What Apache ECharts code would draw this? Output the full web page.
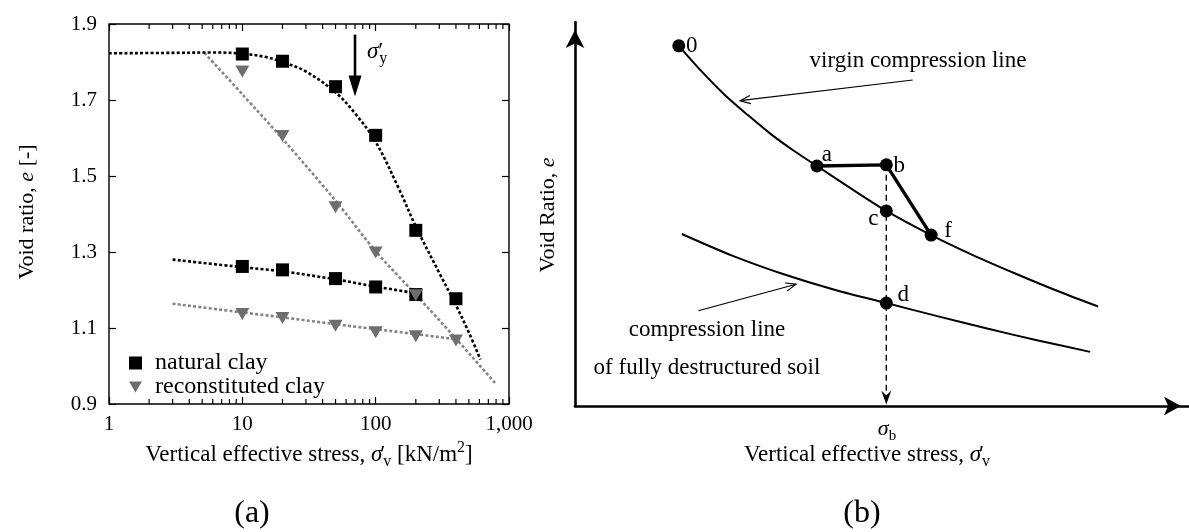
<!DOCTYPE html>
<html><head><meta charset="utf-8">
<script src="https://cdn.jsdelivr.net/npm/echarts@6/dist/echarts.min.js"></script>
<style>html,body{margin:0;padding:0;background:#fff}#c{width:1189px;height:532px}</style>
</head><body><div id="c"></div>
<script>
// ---------- Panel (a) data ----------
const stressLoad = [10, 20, 50, 100, 200, 400];
const naturalLoad = [1.821, 1.802, 1.735, 1.607, 1.357, 1.177];
const reconLoad = [1.775, 1.605, 1.418, 1.299, 1.186, 1.067];
const stressUnload = [10, 20, 50, 100, 200];
const naturalUnload = [1.262, 1.253, 1.230, 1.208, 1.188];
const reconUnload = [1.137, 1.126, 1.106, 1.089, 1.078];

const natFitStress = [1, 3, 6, 10, 15, 20, 30, 50, 70, 100, 150, 200, 300, 400, 500, 611];
const natFitVoid = [1.823, 1.824, 1.825, 1.822, 1.813, 1.800, 1.775, 1.720, 1.665, 1.590, 1.465, 1.367, 1.245, 1.160, 1.088, 1.017];
const natUnloadFitStress = [3, 10, 20, 50, 100, 220];
const natUnloadFitVoid = [1.280, 1.260, 1.249, 1.228, 1.209, 1.189];
const recFitStress = [5.2, 10, 20, 50, 100, 200, 400, 806];
const recFitVoid = [1.824, 1.715, 1.598, 1.435, 1.302, 1.188, 1.072, 0.951];
const recUnloadFitStress = [3, 10, 20, 50, 100, 200, 427];
const recUnloadFitVoid = [1.164, 1.141, 1.128, 1.110, 1.097, 1.084, 1.069];

const yieldArrow = [70, 1.872, 1.709]; // stress, top void ratio, tip void ratio
const xRange = [1, 1000];
const yRange = [0.9, 1.9];
const yStep = 0.2;
const xMinorTicks = [2,3,4,5,6,7,8,9,20,30,40,50,60,70,80,90,200,300,400,500,600,700,800,900];

// ---------- Panel (b) data (schematic units 0..100) ----------
const vclX = [16.9, 20.7, 24.4, 28.2, 31.9, 35.7, 39.4, 44.8, 50.7, 58.0, 64.8, 71.7, 78.5, 85.2];
const vclY = [93.8, 87.0, 81.0, 75.7, 70.8, 66.4, 62.5, 56.8, 50.8, 44.5, 39.3, 34.5, 30.0, 25.9];
const dclX = [17.4, 25.7, 34.0, 42.4, 50.7, 59.0, 67.3, 75.6, 83.9];
const dclY = [44.8, 39.1, 34.3, 30.2, 26.8, 23.4, 20.1, 17.0, 14.1];
const pointNames = ['0', 'a', 'b', 'c', 'f', 'd'];
const pointX = [16.9, 39.4, 50.7, 50.7, 58.0, 50.7];
const pointY = [93.8, 62.5, 62.8, 50.8, 44.5, 26.8];
const pathNames = ['a', 'b', 'f'];
const annotationArrows = [[55.0, 84.9, 26.9, 79.5], [20.1, 24.8, 36.0, 31.7]];

// ---------- styling ----------
const F = 'Liberation Serif';
const GRAY_PT = '#6e6e6e', GRAY_LN = '#858585';
const labelOffsets = { '0': [13, 0], a: [10, -11], b: [13, 1], c: [-13, 8], f: [17, -4], d: [17, -8] };
const richBase = (fs) => ({
  n: { fontFamily: F, fontSize: fs, lineHeight: 30, color: '#000' },
  i: { fontFamily: F, fontSize: fs, fontStyle: 'italic', lineHeight: 30, color: '#000' },
  p: { fontFamily: F, fontSize: fs, lineHeight: 30, width: 1, color: '#000' },
  s: { fontFamily: F, fontSize: Math.round(fs * 0.68), lineHeight: 18, verticalAlign: 'bottom', color: '#000' },
  u: { fontFamily: F, fontSize: Math.round(fs * 0.68), lineHeight: 16, verticalAlign: 'top', color: '#000' }
});

const zip = (a, b) => a.map((v, k) => [v, b[k]]);
const pIdx = n => pointNames.indexOf(n);

const chart = echarts.init(document.getElementById('c'), null, { renderer: 'canvas' });

const dotted = (color) => ({ color, width: 2.6, type: [3, 2.2], cap: 'butt' });

const option = {
  animation: false,
  backgroundColor: '#fff',
  grid: [
    { left: 109, top: 24, width: 400, height: 380, show: true, borderColor: '#000', borderWidth: 1.4, backgroundColor: 'transparent' },
    { left: 575, top: 22, width: 614, height: 384 }
  ],
  legend: {
    orient: 'vertical', left: 124, top: 346, itemWidth: 13, itemHeight: 13, itemGap: 0,
    selectedMode: false,
    textStyle: { fontFamily: F, fontSize: 24, color: '#000', padding: [0, 0, 0, 8] },
    data: [
      { name: 'natural clay', icon: 'rect' },
      { name: 'reconstituted clay', icon: 'path://M0,0L14,0L7,12Z' }
    ]
  },
  xAxis: [
    { gridIndex: 0, type: 'log', logBase: 10, min: xRange[0], max: xRange[1], position: 'bottom',
      axisLine: { show: false }, splitLine: { show: false },
      axisTick: { inside: true, length: 7, lineStyle: { color: '#000', width: 1.2 } },
      axisLabel: { margin: 10, color: '#000', fontFamily: F, fontSize: 21,
        formatter: v => Math.round(v).toLocaleString('en-US') } },
    { gridIndex: 0, type: 'log', logBase: 10, min: xRange[0], max: xRange[1], position: 'top',
      axisLine: { show: false }, splitLine: { show: false }, axisLabel: { show: false },
      axisTick: { inside: true, length: 7, lineStyle: { color: '#000', width: 1.2 } } },
    { gridIndex: 1, type: 'value', min: 0, max: 100, splitLine: { show: false },
      axisLabel: { show: false }, axisTick: { show: false },
      axisLine: { show: true, onZero: false, symbol: ['none', 'arrow'], symbolSize: [14, 17], symbolOffset: [0, -8],
        lineStyle: { color: '#000', width: 2.6 } } }
  ],
  yAxis: [
    { gridIndex: 0, type: 'value', min: yRange[0], max: yRange[1], interval: yStep, position: 'left',
      axisLine: { show: false }, splitLine: { show: false },
      axisTick: { inside: true, length: 7, lineStyle: { color: '#000', width: 1.2 } },
      axisLabel: { margin: 12, color: '#000', fontFamily: F, fontSize: 21, formatter: v => v.toFixed(1) } },
    { gridIndex: 0, type: 'value', min: yRange[0], max: yRange[1], interval: yStep, position: 'right',
      axisLine: { show: false }, splitLine: { show: false }, axisLabel: { show: false },
      axisTick: { inside: true, length: 7, lineStyle: { color: '#000', width: 1.2 } } },
    { gridIndex: 1, type: 'value', min: 0, max: 100, splitLine: { show: false },
      axisLabel: { show: false }, axisTick: { show: false },
      axisLine: { show: true, onZero: false, symbol: ['none', 'arrow'], symbolSize: [14, 18], symbolOffset: [0, -8],
        lineStyle: { color: '#000', width: 2.6 } } }
  ],
  series: [
    // ---- panel (a) fitted curves ----
    { type: 'line', xAxisIndex: 0, yAxisIndex: 0, data: zip(natFitStress, natFitVoid), smooth: 0.35,
      showSymbol: false, lineStyle: dotted('#000'), z: 3, silent: true },
    { type: 'line', xAxisIndex: 0, yAxisIndex: 0, data: zip(natUnloadFitStress, natUnloadFitVoid), smooth: 0.3,
      showSymbol: false, lineStyle: dotted('#000'), z: 3, silent: true },
    { type: 'line', xAxisIndex: 0, yAxisIndex: 0, data: zip(recFitStress, recFitVoid), smooth: 0.3,
      showSymbol: false, lineStyle: dotted(GRAY_LN), z: 2, silent: true },
    { type: 'line', xAxisIndex: 0, yAxisIndex: 0, data: zip(recUnloadFitStress, recUnloadFitVoid), smooth: 0.3,
      showSymbol: false, lineStyle: dotted(GRAY_LN), z: 2, silent: true },
    // ---- panel (a) measured points ----
    { name: 'natural clay', type: 'scatter', xAxisIndex: 0, yAxisIndex: 0, symbol: 'rect', symbolSize: 13,
      itemStyle: { color: '#000', opacity: 1 }, z: 5,
      data: zip(stressLoad, naturalLoad).concat(zip(stressUnload, naturalUnload)) },
    { name: 'reconstituted clay', type: 'scatter', xAxisIndex: 0, yAxisIndex: 0, symbol: 'triangle',
      symbolRotate: 180, symbolSize: [14, 12], itemStyle: { color: GRAY_PT, opacity: 1 }, z: 5,
      data: zip(stressLoad, reconLoad).concat(zip(stressUnload, reconUnload)) },
    // ---- minor log ticks (bottom & top) ----
    { type: 'custom', xAxisIndex: 0, yAxisIndex: 0, silent: true, z: 6, clip: false,
      data: xMinorTicks.map(v => [v, yRange[0]]),
      renderItem: (params, api) => {
        const v = api.value(0);
        const b = api.coord([v, yRange[0]]), t = api.coord([v, yRange[1]]);
        return { type: 'group', children: [
          { type: 'line', shape: { x1: b[0], y1: b[1], x2: b[0], y2: b[1] - 5 }, style: { stroke: '#000', lineWidth: 1.2 } },
          { type: 'line', shape: { x1: t[0], y1: t[1], x2: t[0], y2: t[1] + 5 }, style: { stroke: '#000', lineWidth: 1.2 } }
        ] };
      } },
    // ---- yield stress arrow ----
    { type: 'custom', xAxisIndex: 0, yAxisIndex: 0, silent: true, z: 6, data: [yieldArrow],
      renderItem: (params, api) => {
        const p0 = api.coord([api.value(0), api.value(1)]);
        const p1 = api.coord([api.value(0), api.value(2)]);
        const h = 21, w = 6.5;
        return { type: 'group', children: [
          { type: 'line', shape: { x1: p0[0], y1: p0[1], x2: p1[0], y2: p1[1] - h + 2 }, style: { stroke: '#000', lineWidth: 2.6 } },
          { type: 'polygon', shape: { points: [[p1[0] - w, p1[1] - h], [p1[0] + w, p1[1] - h], [p1[0], p1[1]]] }, style: { fill: '#000' } }
        ] };
      } },
    // ---- panel (b) curves ----
    { type: 'line', xAxisIndex: 2, yAxisIndex: 2, data: zip(vclX, vclY), smooth: 0.3, showSymbol: false,
      lineStyle: { color: '#000', width: 2 }, silent: true, z: 3 },
    { type: 'line', xAxisIndex: 2, yAxisIndex: 2, data: zip(dclX, dclY), smooth: 0.3, showSymbol: false,
      lineStyle: { color: '#000', width: 2 }, silent: true, z: 3 },
    { type: 'line', xAxisIndex: 2, yAxisIndex: 2, showSymbol: false, silent: true, z: 3,
      data: pathNames.map(n => [pointX[pIdx(n)], pointY[pIdx(n)]]),
      lineStyle: { color: '#000', width: 3.4 } },
    // dashed arrow from b down to the stress axis
    { type: 'custom', xAxisIndex: 2, yAxisIndex: 2, silent: true, z: 2,
      data: [[pointX[pIdx('b')], pointY[pIdx('b')], 0]],
      renderItem: (params, api) => {
        const p0 = api.coord([api.value(0), api.value(1)]);
        const p1 = api.coord([api.value(0), api.value(2)]);
        const tipY = p1[1] - 1.5, x = p1[0];
        return { type: 'group', children: [
          { type: 'line', shape: { x1: x, y1: p0[1], x2: x, y2: tipY - 8 }, style: { stroke: '#000', lineWidth: 1.4, lineDash: [6, 4] } },
          { type: 'polygon', shape: { points: [[x, tipY], [x - 5, tipY - 14], [x, tipY - 9], [x + 5, tipY - 14]] }, style: { fill: '#000' } }
        ] };
      } },
    // annotation arrows (open heads)
    { type: 'custom', xAxisIndex: 2, yAxisIndex: 2, silent: true, z: 2, data: annotationArrows,
      renderItem: (params, api) => {
        const a = api.coord([api.value(0), api.value(1)]);
        const b = api.coord([api.value(2), api.value(3)]);
        const ang = Math.atan2(b[1] - a[1], b[0] - a[0]);
        const L = 11, s = 0.38;
        const h1 = [b[0] - L * Math.cos(ang - s), b[1] - L * Math.sin(ang - s)];
        const h2 = [b[0] - L * Math.cos(ang + s), b[1] - L * Math.sin(ang + s)];
        return { type: 'group', children: [
          { type: 'line', shape: { x1: a[0], y1: a[1], x2: b[0], y2: b[1] }, style: { stroke: '#000', lineWidth: 1.2 } },
          { type: 'polyline', shape: { points: [h1, b, h2] }, style: { stroke: '#000', lineWidth: 1.2, fill: null } }
        ] };
      } },
    // state points
    { type: 'scatter', xAxisIndex: 2, yAxisIndex: 2, symbol: 'circle', symbolSize: 13, z: 5,
      itemStyle: { color: '#000', opacity: 1 },
      label: { show: true, position: 'inside', color: '#000', fontFamily: F, fontSize: 23, formatter: p => p.name },
      data: pointNames.map((n, k) => ({ name: n, value: [pointX[k], pointY[k]], label: { offset: labelOffsets[n] } })) }
  ],
  graphic: [
    { type: 'text', x: 309, y: 455, style: { text: '{n|Vertical effective stress, }{i|σ}{p|′}{s|v}{n| [kN/m}{u|2}{n|]}', rich: richBase(23), align: 'center', verticalAlign: 'middle' } },
    { type: 'text', x: 27, y: 212, rotation: Math.PI / 2, style: { text: '{n|Void ratio, }{i|e}{n| [-]}', rich: richBase(22), align: 'center', verticalAlign: 'middle' } },
    { type: 'text', x: 367, y: 52, style: { text: '{i|σ}{p|′}{s|y}', rich: richBase(23), align: 'left', verticalAlign: 'middle' } },
    { type: 'text', x: 252, y: 514, style: { text: '(a)', fontFamily: F, fontSize: 32, fill: '#000', align: 'center', verticalAlign: 'middle' } },
    { type: 'text', x: 862, y: 514, style: { text: '(b)', fontFamily: F, fontSize: 32, fill: '#000', align: 'center', verticalAlign: 'middle' } },
    { type: 'text', x: 867, y: 455, style: { text: '{n|Vertical effective stress, }{i|σ}{p|′}{s|v}', rich: richBase(23), align: 'center', verticalAlign: 'middle' } },
    { type: 'text', x: 548, y: 215, rotation: Math.PI / 2, style: { text: '{n|Void Ratio, }{i|e}', rich: richBase(22), align: 'center', verticalAlign: 'middle' } },
    { type: 'text', x: 887, y: 429, style: { text: '{i|σ}{s|b}', rich: richBase(22), align: 'center', verticalAlign: 'middle' } },
    { type: 'text', x: 918, y: 61, style: { text: 'virgin compression line', fontFamily: F, fontSize: 23, fill: '#000', align: 'center', verticalAlign: 'middle' } },
    { type: 'text', x: 707, y: 330, style: { text: 'compression line', fontFamily: F, fontSize: 23, fill: '#000', align: 'center', verticalAlign: 'middle' } },
    { type: 'text', x: 707, y: 368, style: { text: 'of fully destructured soil', fontFamily: F, fontSize: 23, fill: '#000', align: 'center', verticalAlign: 'middle' } }
  ]
};
chart.setOption(option);
</script></body></html>
